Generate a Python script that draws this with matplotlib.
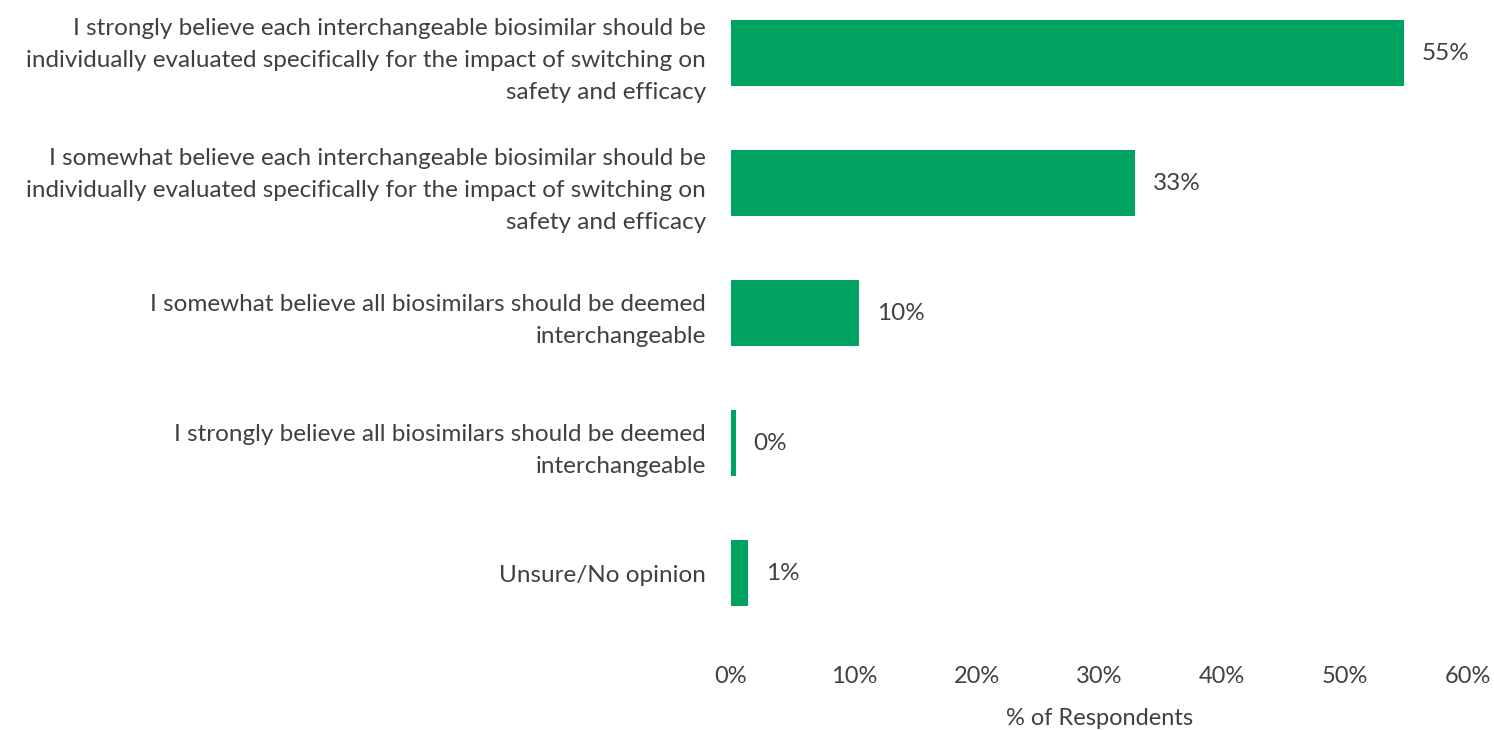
import matplotlib.pyplot as plt
from matplotlib.ticker import FuncFormatter

# survey responses, top to bottom
categories = [
    "I strongly believe each interchangeable biosimilar should be\nindividually evaluated specifically for the impact of switching on\nsafety and efficacy",
    "I somewhat believe each interchangeable biosimilar should be\nindividually evaluated specifically for the impact of switching on\nsafety and efficacy",
    "I somewhat believe all biosimilars should be deemed\ninterchangeable",
    "I strongly believe all biosimilars should be deemed\ninterchangeable",
    "Unsure/No opinion",
]
share = [54.8, 32.9, 10.4, 0.4, 1.4]
x_ticks = [0, 10, 20, 30, 40, 50, 60]

bar_color = '#00A261'
text_color = '#404040'

plt.rcParams['font.family'] = ['Lato', 'DejaVu Sans']

fig = plt.figure(figsize=(14.94, 7.30), dpi=100)
ax = fig.add_axes([0.4893, 0.126, 0.4933, 0.874])

pos = list(range(len(categories)))
ax.barh(pos, share, height=0.51, color=bar_color)

for y, v in zip(pos, share):
    ax.text(v + 1.45, y, f'{round(v):.0f}%', va='center', ha='left',
            fontsize=17.5, color=text_color)

ax.set_xlim(0, 60)
ax.set_ylim(4.5, -0.408)
ax.set_xticks(x_ticks)
ax.xaxis.set_major_formatter(FuncFormatter(lambda v, p: f'{v:.0f}%'))
ax.set_yticks(pos)
ax.set_yticklabels(categories, fontsize=17.5, color=text_color, linespacing=1.65)
ax.tick_params(axis='y', length=0, pad=18)
ax.tick_params(axis='x', length=0, pad=20, labelsize=17, labelcolor=text_color)
ax.set_xlabel('% of Respondents', fontsize=17, color=text_color, labelpad=15)

for s in ax.spines.values():
    s.set_visible(False)

fig.savefig('out.png', dpi=100)
